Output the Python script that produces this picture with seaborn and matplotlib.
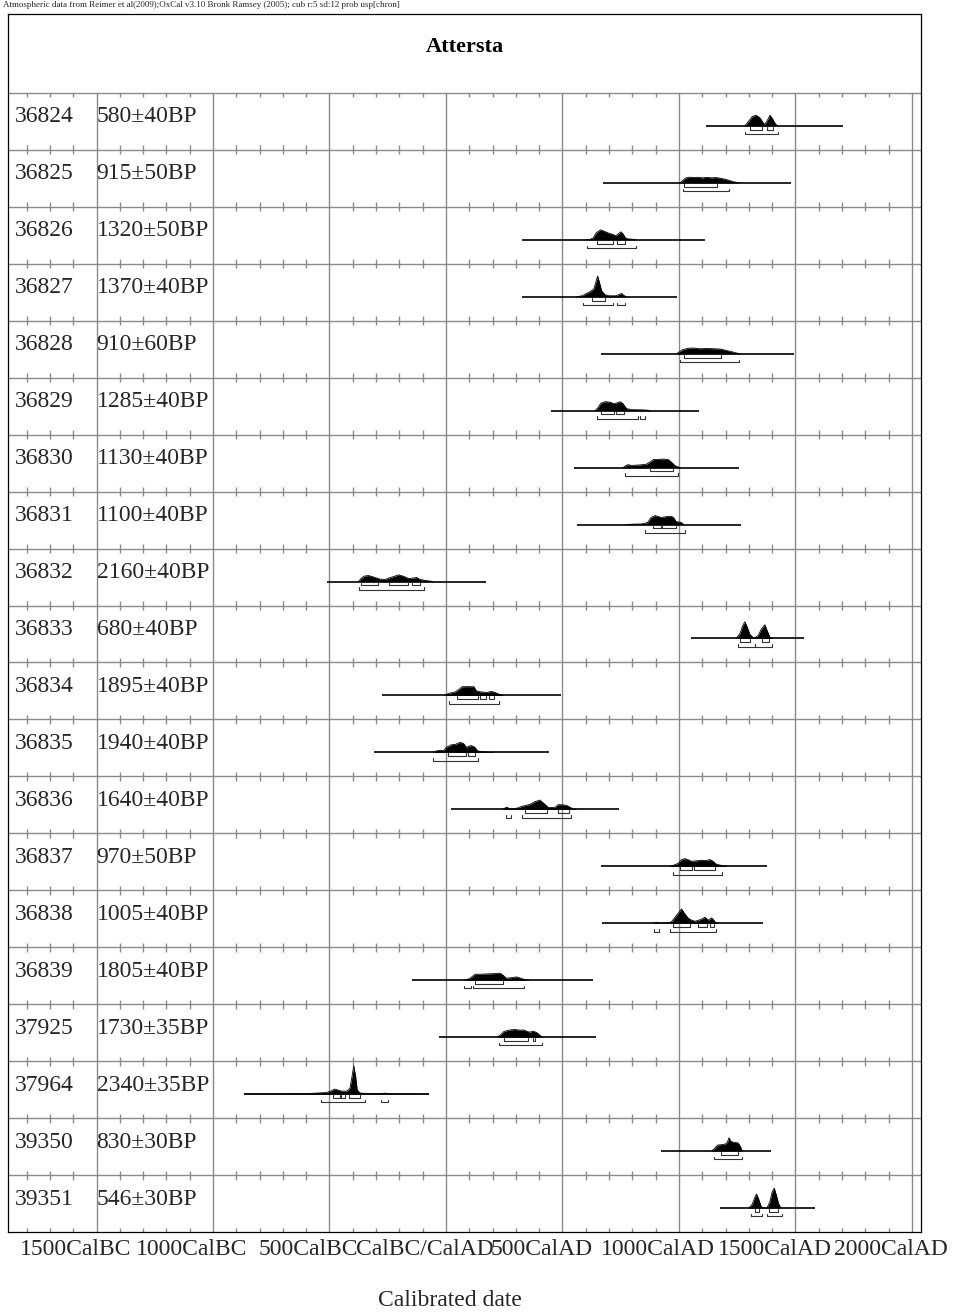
import pandas as pd
import matplotlib
matplotlib.use("Agg")
import matplotlib.pyplot as plt
import matplotlib.transforms as mtransforms
import seaborn as sns

sns.set_style("white")
plt.rcParams['font.family'] = ['Liberation Serif', 'DejaVu Serif']

# sample ids and radiocarbon ages
lab_ids = ['36824', '36825', '36826', '36827', '36828', '36829', '36830', '36831', '36832', '36833',
           '36834', '36835', '36836', '36837', '36838', '36839', '37925', '37964', '39350', '39351']
bp_dates = ['580±40BP', '915±50BP', '1320±50BP', '1370±40BP', '910±60BP', '1285±40BP', '1130±40BP',
            '1100±40BP', '2160±40BP', '680±40BP', '1895±40BP', '1940±40BP', '1640±40BP', '970±50BP',
            '1005±40BP', '1805±40BP', '1730±35BP', '2340±35BP', '830±30BP', '546±30BP']

# extent of each calibrated distribution line (cal years, BC negative)
line_start = [1116, 674, 325, 325, 665, 451, 551, 561, -512, 1052,
              -273, -308, 21, 667, 671, -147, -32, -866, 921, 1176]
line_end = [1703, 1481, 1110, 990, 1494, 1084, 1256, 1265, 170, 1538,
            494, 441, 741, 1378, 1359, 630, 646, -74, 1397, 1583]

# probability outlines: (cal year, height in px)
dens_36824 = [(1283, 0), (1300, 5), (1315, 9.5), (1331, 10.7), (1348, 8), (1362, 3), (1369, 1.5),
              (1378, 5), (1391, 10.7), (1402, 7), (1414, 2), (1425, 0)]
dens_36825 = [(1005, 0), (1016, 2.5), (1030, 5), (1047, 5.7), (1065, 5.3), (1080, 5.6), (1100, 5),
              (1120, 5.5), (1140, 5), (1160, 5.3), (1180, 4.5), (1200, 3.5), (1215, 2.5), (1235, 1), (1262, 0)]
dens_36826 = [(600, 0), (620, 0.5), (632, 2), (645, 7), (663, 10), (680, 8.5), (700, 6.5), (715, 5.5),
              (730, 4), (742, 6.5), (751, 8), (760, 6), (770, 2), (780, 1), (803, 0.5), (815, 0)]
dens_36827 = [(560, 0), (585, 1), (600, 3), (618, 5), (635, 8), (645, 16), (651, 20.7), (658, 15),
              (668, 6), (683, 2), (700, 1), (730, 1), (745, 2.5), (754, 3.3), (762, 1.5), (775, 0)]
dens_36828 = [(990, 0), (1000, 1.5), (1015, 4), (1040, 5.5), (1061, 5.7), (1090, 5), (1120, 5.2),
              (1150, 5), (1176, 4.7), (1200, 3.5), (1226, 2), (1245, 0.8), (1262, 0)]
dens_36829 = [(640, 0), (652, 3), (665, 7.5), (683, 9), (705, 8.5), (720, 7), (730, 7.5), (747, 9),
              (760, 7), (775, 2), (800, 1), (840, 0.8), (867, 0.5), (875, 0)]
dens_36830 = [(760, 0), (772, 2), (781, 3), (795, 2.2), (820, 2.5), (845, 3), (861, 3.5), (878, 6),
              (890, 8), (910, 8.3), (935, 8.5), (954, 8), (970, 5), (983, 2), (1004, 0)]
dens_36831 = [(770, 0), (800, 0.4), (840, 0.6), (865, 2), (880, 7), (897, 9), (912, 8), (925, 7),
              (945, 8), (961, 8.3), (975, 7.5), (988, 3), (1000, 2.5), (1011, 2), (1021, 0)]
dens_36832 = [(-375, 0), (-365, 3), (-350, 5.5), (-333, 6), (-310, 4.5), (-285, 2.5), (-262, 2),
              (-245, 3.5), (-225, 5), (-202, 6.7), (-180, 5), (-160, 3), (-140, 3.5), (-126, 4),
              (-110, 2), (-80, 0.8), (-55, 0)]
dens_36833 = [(1245, 0), (1262, 5), (1274, 13), (1283, 16.7), (1292, 12), (1305, 4), (1318, 1),
              (1326, 0.7), (1340, 3), (1355, 10), (1369, 13.7), (1380, 7), (1391, 1), (1400, 0)]
dens_36834 = [(-5, 0), (10, 2), (24, 2.7), (40, 3.5), (55, 6), (70, 8.7), (95, 8.8), (120, 8.7),
              (131, 4.5), (150, 3.5), (174, 3), (185, 3.5), (195, 4), (210, 3), (230, 1), (245, 0)]
dens_36835 = [(-55, 0), (-40, 1.5), (-26, 2), (-8, 2), (0, 5), (24, 7.7), (40, 8), (60, 10), (75, 9),
              (88, 5), (100, 6.5), (110, 6.7), (125, 5), (135, 1.5), (160, 0.7), (203, 0)]
dens_36836 = [(245, 0), (260, 2.3), (275, 0.5), (290, 0.5), (310, 1.5), (325, 3), (345, 4), (361, 5),
              (380, 7.5), (403, 9.3), (420, 6), (439, 2), (455, 1.8), (468, 2), (482, 4.7), (500, 4.5),
              (518, 4), (530, 2.5), (545, 0.5), (560, 0)]
dens_36837 = [(960, 0), (976, 1), (997, 3), (1010, 6.5), (1026, 7.7), (1040, 6.5), (1054, 5), (1075, 5.5),
              (1095, 6), (1115, 5.7), (1133, 6.7), (1147, 5), (1161, 2), (1185, 0.8), (1204, 0)]
dens_36838 = [(890, 0), (904, 1), (916, 0), (960, 0.5), (968, 1.5), (983, 6), (1000, 11), (1011, 14.3),
              (1025, 9.5), (1040, 5), (1055, 3), (1069, 2), (1090, 3.5), (1104, 5), (1112, 6), (1126, 3),
              (1140, 5.3), (1150, 3), (1158, 0.5), (1170, 0)]
dens_36839 = [(80, 0), (100, 1.5), (115, 4), (124, 6), (150, 6), (175, 6.3), (203, 6.5), (232, 7),
              (245, 5), (260, 2), (280, 2.5), (303, 3.3), (320, 2), (339, 0.5), (355, 0)]
dens_37925 = [(220, 0), (235, 2.5), (249, 5.7), (270, 7), (294, 7.7), (310, 7.2), (326, 7), (334, 7.2),
              (345, 6), (359, 5), (375, 6), (390, 4.5), (405, 1.5), (415, 0)]
dens_37964 = [(-866, 0), (-750, 0.3), (-600, 0.5), (-514, 1.5), (-495, 3), (-478, 5), (-462, 4),
              (-449, 3), (-425, 3), (-412, 6), (-403, 18), (-396, 28.3), (-388, 18), (-381, 4),
              (-368, 1), (-320, 0.5), (-275, 0.6), (-263, 1), (-250, 0.4), (-200, 0.2), (-74, 0)]
dens_39350 = [(1140, 0), (1150, 2), (1166, 6), (1185, 6.5), (1199, 7), (1208, 9), (1215, 13.3),
              (1222, 10), (1231, 9), (1245, 8.5), (1255, 8), (1265, 4), (1271, 0)]
dens_39351 = [(1300, 0), (1315, 4), (1326, 11), (1333, 14), (1342, 9), (1352, 2), (1360, 0), (1378, 0),
              (1390, 6), (1400, 16), (1409, 20), (1418, 13), (1428, 4), (1438, 0)]

# 68.2% and 95.4% ranges
sigma1 = [[(1305, 1355), (1379, 1404)], [(1023, 1164)], [(648, 715), (735, 767)], [(625, 683)],
          [(1023, 1179)], [(665, 721), (730, 766)], [(876, 976)], [(887, 921), (928, 987)],
          [(-365, -290), (-243, -162), (-145, -112)], [(1264, 1305), (1355, 1386)],
          [(46, 139), (146, 170), (186, 207)], [(7, 88), (94, 126)], [(338, 435), (479, 527)],
          [(1004, 1057), (1066, 1156)], [(976, 1047), (1083, 1119), (1133, 1150)], [(126, 246)],
          [(250, 352), (372, 383)], [(-486, -457), (-449, -435), (-417, -368)], [(1179, 1255)],
          [(1325, 1344), (1388, 1425)]]
sigma2 = [[(1285, 1427)], [(1016, 1216)], [(605, 815)], [(587, 715), (735, 768)], [(1006, 1256)],
          [(648, 826), (834, 856)], [(767, 996)], [(855, 1027)], [(-373, -93)],
          [(1255, 1326), (1326, 1398)], [(14, 229)], [(-55, 139)], [(256, 278), (328, 537)],
          [(976, 1186)], [(893, 916), (961, 1157)], [(77, 107), (117, 336)], [(229, 412)],
          [(-538, -347), (-278, -247)], [(1150, 1271)], [(1309, 1357), (1380, 1442)]]

axis_years = [-1500, -1000, -500, 0, 500, 1000, 1500, 2000]
axis_labels = ['1500CalBC', '1000CalBC', '500CalBC', 'CalBC/CalAD', '500CalAD',
               '1000CalAD', '1500CalAD', '2000CalAD']

densities = [dens_36824, dens_36825, dens_36826, dens_36827, dens_36828, dens_36829, dens_36830,
             dens_36831, dens_36832, dens_36833, dens_36834, dens_36835, dens_36836, dens_36837,
             dens_36838, dens_36839, dens_37925, dens_37964, dens_39350, dens_39351]

ROW_PX = 57.0          # row height in pixels
BASE = 33 / ROW_PX     # baseline position inside a row
n = len(lab_ids)

recs = []
for i, pts in enumerate(densities):
    for yr, h in pts:
        recs.append({'row': i, 'year': yr, 'y': i + BASE - h / ROW_PX})
df = pd.DataFrame(recs)

fig = plt.figure(figsize=(9.61, 13.16), dpi=100)
W, H = 961, 1316
ax = fig.add_axes([8 / W, (H - 1232) / H, (921 - 8) / W, (1232 - 14) / H])
ax.set_xlim(-1880, 2039)
ax.set_ylim(n, -79 / ROW_PX)

grid_c = '#8a8a8a'
# row separators and 500-year grid
ax.hlines(range(n), -1880, 2039, color=grid_c, lw=1.0, zorder=1)
ax.vlines(axis_years, 0, n, color=grid_c, lw=1.0, zorder=1)
# 100-year tick marks on each row boundary
minor = [yr for yr in range(-1800, 2001, 100) if yr % 500 != 0]
tk = 4.5 / ROW_PX
for b in range(n + 1):
    lo = b - tk if b > 0 else b
    hi = b + tk if b < n else b
    ax.vlines(minor, lo, hi, color=grid_c, lw=1.0, zorder=1)

# distributions
for i, g in df.groupby('row'):
    ax.fill_between(g['year'], i + BASE, g['y'], color='black', lw=0, zorder=3)
sns.lineplot(data=df, x='year', y='y', units='row', estimator=None, sort=False,
             color='black', lw=0.6, ax=ax, legend=False, zorder=3)
ax.hlines([i + BASE for i in range(n)], line_start, line_end, color='black', lw=1.2, zorder=4)

# range brackets
for i in range(n):
    b = i + BASE
    for a, c in sigma1[i]:
        ax.plot([a, a, c, c], [b + 1 / ROW_PX, b + 3.8 / ROW_PX, b + 3.8 / ROW_PX, b + 1 / ROW_PX],
                color='#333333', lw=0.8, zorder=4)
    for a, c in sigma2[i]:
        ax.plot([a, a, c, c], [b + 5.8 / ROW_PX, b + 8.3 / ROW_PX, b + 8.3 / ROW_PX, b + 5.8 / ROW_PX],
                color='#333333', lw=0.8, zorder=4)

# row labels
for i in range(n):
    ax.text(-1880 + 7 * 4.29, i + 24 / ROW_PX, lab_ids[i], fontsize=17, va='center', ha='left', zorder=5)
    ax.text(-1500, i + 24 / ROW_PX, bp_dates[i], fontsize=17, va='center', ha='left', zorder=5)

title_tr = mtransforms.blended_transform_factory(ax.transAxes, ax.transData)
ax.text(0.5, -46 / ROW_PX, 'Attersta', transform=title_tr,
        fontsize=16, fontweight='bold', ha='center', va='center', color='black')

for s in ax.spines.values():
    s.set_visible(True)
    s.set_color('black')
    s.set_linewidth(0.9)

ax.set_yticks([])
ax.set_xticks(axis_years)
ax.set_xticklabels(axis_labels, fontsize=17)
ax.tick_params(axis='x', length=0, pad=5)
shift = mtransforms.ScaledTranslation(-21 / 100, 0, fig.dpi_scale_trans)
for lbl in ax.get_xticklabels():
    lbl.set_transform(lbl.get_transform() + shift)
ax.set_xlabel('')
ax.set_ylabel('')

fig.text(450 / W, 1 - 1300 / H, 'Calibrated date', fontsize=17, ha='center', va='center')
fig.text(3 / W, 1 - 1 / H,
         'Atmospheric data from Reimer et al(2009);OxCal v3.10 Bronk Ramsey (2005); cub r:5 sd:12 prob usp[chron]',
         fontsize=6.5, ha='left', va='top')

fig.savefig('out.png', dpi=100)
